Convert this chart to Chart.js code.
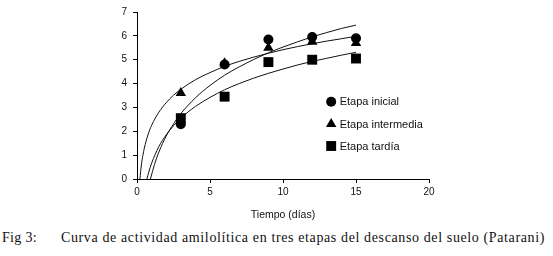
<!DOCTYPE html>
<html>
<head>
<meta charset="utf-8">
<script src="https://cdn.jsdelivr.net/npm/chart.js@4/dist/chart.umd.min.js"></script>
<style>
  html, body { margin: 0; padding: 0; background: #fff; }
  #wrap { position: absolute; left: 0; top: 0; width: 553px; height: 225px; }
  #cap { position: absolute; left: 0; top: 230px; width: 553px; font-family: "Liberation Serif", "DejaVu Serif", serif; font-size: 14px; color: #111; white-space: nowrap; }
  #cap .fig { position: absolute; left: 2px; letter-spacing: 0.3px; }
  #cap .txt { position: absolute; left: 61px; letter-spacing: 0.62px; }
</style>
</head>
<body>
<div id="wrap"><canvas id="chart"></canvas></div>
<div id="cap"><span class="fig">Fig 3:</span><span class="txt">Curva de actividad amilolítica en tres etapas del descanso del suelo (Patarani)</span></div>
<script>
// mediciones
const dias = [3, 6, 9, 12, 15];
const inicial = [2.3, 4.8, 5.85, 5.95, 5.9];
const intermedia = [3.6, 4.85, 5.5, 5.75, 5.7];
const tardia = [2.55, 3.45, 4.9, 5.0, 5.05];

// curvas de tendencia
const curvaInicialX = [0.92, 1.2, 1.5, 2, 2.5, 3, 4, 5, 6, 7, 8, 9, 10, 11, 12, 13, 14, 15];
const curvaInicialY = [0, 0.61, 1.13, 1.80, 2.31, 2.74, 3.40, 3.92, 4.35, 4.70, 5.01, 5.29, 5.53, 5.75, 5.96, 6.14, 6.31, 6.45];
const curvaInterX = [0.2, 0.3, 0.4, 0.5, 0.75, 1, 1.5, 2, 2.5, 3, 4, 5, 6, 7, 8, 9, 10, 11, 12, 13, 14, 15];
const curvaInterY = [0, 0.59, 0.98, 1.29, 1.85, 2.25, 2.80, 3.20, 3.51, 3.76, 4.16, 4.46, 4.72, 4.93, 5.11, 5.27, 5.42, 5.55, 5.67, 5.78, 5.88, 5.98];
const curvaTardiaX = [0.68, 0.8, 1, 1.5, 2, 2.5, 3, 4, 5, 6, 7, 8, 9, 10, 11, 12, 13, 14, 15];
const curvaTardiaY = [0, 0.28, 0.66, 1.36, 1.85, 2.23, 2.55, 3.04, 3.42, 3.74, 4.00, 4.23, 4.43, 4.61, 4.78, 4.93, 5.06, 5.19, 5.31];

const xTicks = [0, 5, 10, 15, 20];
const yTicks = [0, 1, 2, 3, 4, 5, 6, 7];

const series = [
    { label: 'Etapa inicial', y: inicial, style: 'circle', radius: 5 },
    { label: 'Etapa intermedia', y: intermedia, style: 'triangle', radius: 6 },
    { label: 'Etapa tardía', y: tardia, style: 'rect', radius: 7 }
];
const curvas = [
    [curvaInicialX, curvaInicialY],
    [curvaInterX, curvaInterY],
    [curvaTardiaX, curvaTardiaY]
];

const pts = (xs, ys) => xs.map((x, i) => ({ x: x, y: ys[i] }));

const datasets = [];
series.forEach((s, i) => {
    datasets.push({
        label: s.label,
        data: pts(dias, s.y),
        showLine: false,
        pointStyle: s.style,
        pointRadius: s.radius,
        backgroundColor: '#000',
        borderColor: '#000',
        borderWidth: 0,
        order: 3 - i
    });
});
curvas.forEach(c => {
    datasets.push({
        data: pts(c[0], c[1]),
        showLine: true,
        pointRadius: 0,
        borderColor: '#111',
        borderWidth: 1,
        cubicInterpolationMode: 'monotone',
        order: 10
    });
});

// leyenda dentro del area
const legendPlugin = {
    id: 'insideLegend',
    afterDraw(chart) {
        const ctx = chart.ctx;
        const x = chart.scales.x.getPixelForValue(13.3);
        const ys = [101.7, 124, 146];
        ctx.save();
        series.forEach((s, i) => {
            ctx.fillStyle = '#000';
            ctx.strokeStyle = '#000';
            Chart.helpers.drawPoint(ctx, { pointStyle: s.style, radius: s.radius, borderWidth: 0 }, x, ys[i]);
            ctx.font = '11px "Liberation Sans", Arial, sans-serif';
            ctx.fillStyle = '#111';
            ctx.textBaseline = 'middle';
            ctx.fillText(s.label, x + 8.5, ys[i] + 0.5);
        });
        ctx.restore();
    }
};

const tickFont = { family: '"Liberation Sans", Arial, sans-serif', size: 10 };

new Chart(document.getElementById('chart'), {
    type: 'scatter',
    data: { datasets: datasets },
    options: {
        responsive: true,
        maintainAspectRatio: false,
        animation: false,
        layout: { padding: { left: 0, right: 124, top: 12, bottom: 0 } },
        plugins: { legend: { display: false }, tooltip: { enabled: false } },
        scales: {
            x: {
                type: 'linear',
                min: 0, max: 20,
                afterBuildTicks: axis => { axis.ticks = xTicks.map(v => ({ value: v })); },
                afterFit: axis => { axis.height = 46; },
                grid: { drawOnChartArea: false, drawTicks: true, tickLength: 4, color: '#000' },
                border: { color: '#000', width: 1 },
                ticks: { color: '#111', font: tickFont, padding: 3, maxRotation: 0 },
                title: { display: true, text: 'Tiempo (días)', color: '#111', font: { family: '"Liberation Sans", Arial, sans-serif', size: 10.5 }, padding: { top: 2, bottom: 4 } }
            },
            y: {
                type: 'linear',
                min: 0, max: 7,
                afterBuildTicks: axis => { axis.ticks = yTicks.map(v => ({ value: v })); },
                afterFit: axis => { axis.width = 137; },
                grid: { drawOnChartArea: false, drawTicks: true, tickLength: 4, color: '#000' },
                border: { color: '#000', width: 1 },
                ticks: { color: '#111', font: tickFont, padding: 6 }
            }
        }
    },
    plugins: [legendPlugin]
});
</script>
</body>
</html>
